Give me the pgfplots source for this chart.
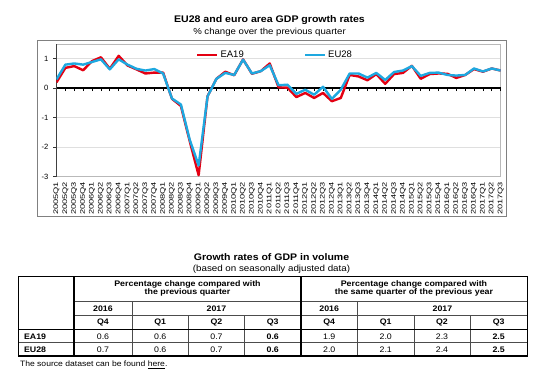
\documentclass[border=0pt]{standalone}
\usepackage{pgfplots}
\usepackage{pgfplotstable}
\pgfplotsset{compat=1.18}
\usepackage{fontspec}
\setmainfont{Liberation Sans}[FakeStretch=1.1]
\newfontfamily\plainf{Liberation Sans}
\newfontfamily\tickf{Liberation Sans}[FakeStretch=1.4]
\definecolor{eared}{RGB}{228,0,18}
\definecolor{eublue}{RGB}{30,168,224}
\newcommand\fs[1]{\fontsize{#1}{#1}\selectfont}

\pgfplotstableread{
i ea eu
0 0.20 0.30
1 0.69 0.80
2 0.75 0.84
3 0.61 0.80
4 0.92 0.89
5 1.05 0.98
6 0.66 0.64
7 1.10 0.98
8 0.77 0.80
9 0.64 0.66
10 0.50 0.60
11 0.53 0.65
12 0.53 0.50
13 -0.36 -0.35
14 -0.60 -0.55
15 -1.80 -1.75
16 -2.95 -2.62
17 -0.27 -0.28
18 0.32 0.32
19 0.56 0.52
20 0.44 0.45
21 0.98 0.97
22 0.49 0.50
23 0.58 0.58
24 0.84 0.78
25 0.03 0.10
26 0.02 0.12
27 -0.30 -0.19
28 -0.16 -0.05
29 -0.33 -0.22
30 -0.16 0.05
31 -0.44 -0.36
32 -0.33 -0.05
33 0.45 0.50
34 0.40 0.50
35 0.27 0.36
36 0.48 0.52
37 0.15 0.28
38 0.48 0.55
39 0.52 0.60
40 0.76 0.75
41 0.32 0.42
42 0.48 0.52
43 0.50 0.53
44 0.49 0.45
45 0.35 0.43
46 0.45 0.45
47 0.65 0.67
48 0.56 0.57
49 0.67 0.67
50 0.60 0.60
}\gdp

\begin{document}
\begin{tikzpicture}[x=1pt,y=1pt]
\useasboundingbox (0,0) rectangle (550,378);
% chart titles
\node[font=\bfseries\fs{9.6}] at (269.5,358.2) {EU28 and euro area GDP growth rates};
\node[font=\fs{8.75}] at (269.5,345.8) {\% change over the previous quarter};
\draw[gray, line width=0.8] (37,162) rectangle (506.7,338);

\begin{axis}[at={(56.5pt,201.3pt)}, anchor=south west, scale only axis,
  width=444.2pt, height=132.7pt, xmin=0, xmax=50, ymin=-3, ymax=1.5,
  axis line style={gray!55, line width=0.6pt},
  xtick={0,...,50},
  xticklabels={2005Q1,2005Q2,2005Q3,2005Q4,2006Q1,2006Q2,2006Q3,2006Q4,2007Q1,2007Q2,2007Q3,2007Q4,2008Q1,2008Q2,2008Q3,2008Q4,2009Q1,2009Q2,2009Q3,2009Q4,2010Q1,2010Q2,2010Q3,2010Q4,2011Q1,2011Q2,2011Q3,2011Q4,2012Q1,2012Q2,2012Q3,2012Q4,2013Q1,2013Q2,2013Q3,2013Q4,2014Q1,2014Q2,2014Q3,2014Q4,2015Q1,2015Q2,2015Q3,2015Q4,2016Q1,2016Q2,2016Q3,2016Q4,2017Q1,2017Q2,2017Q3},
  major x tick style={draw=none},
  xticklabel style={rotate=90, anchor=east, font=\tickf\fs{6.6}, inner sep=1.5pt},
  ytick={-3,-2,-1,0,1}, yticklabels={-3,-2,-1,0,1},
  yticklabel style={font=\plainf\fs{7.6}, xshift=-1pt},
  major y tick style={black!80, line width=0.6pt},
  tick align=outside, major tick length=3.5pt,
  xtick pos=bottom, ytick pos=left,
  ymajorgrids, grid style={gray!25, line width=0.6pt}]
\end{axis}

\begin{axis}[at={(56.5pt,201.3pt)}, anchor=south west, scale only axis,
  width=444.2pt, height=132.7pt, xmin=0, xmax=50, ymin=-3, ymax=1.5,
  axis x line=middle, axis y line=left, axis line style={-},
  x axis line style={black, line width=1.5pt},
  y axis line style={black!75, line width=0.8pt},
  xtick={0,...,50}, xticklabels={}, ytick=\empty,
  tick align=outside, major tick length=3pt,
  major x tick style={black, line width=0.7pt},
  line join=round,
  legend style={at={(0.314,0.965)}, anchor=north west, draw=none, fill=none,
    font=\plainf\fs{9.5}, inner sep=0pt, cells={anchor=west}},
  legend columns=2,
  legend image code/.code={\draw[#1] (0pt,0pt) -- (20pt,0pt);},
  /tikz/every even column/.append style={column sep=58pt}]
\addplot[eared, line width=2.4pt] table[x=i,y=ea]{\gdp};
\addplot[eublue, line width=2.4pt] table[x=i,y=eu]{\gdp};
\legend{EA19,EU28}
\end{axis}

% table
\node[font=\bfseries\fs{9.55}] at (271.5,121.3) {Growth rates of GDP in volume};
\node[font=\fs{8.9}] at (271.5,108.3) {(based on seasonally adjusted data)};

\begin{scope}[black!70, line width=0.6]
\draw (74,76.3) -- (527.3,76.3);
\draw (74,62.3) -- (527.3,62.3);
\draw (132,76.3) -- (132,22);
\draw (357.5,76.3) -- (357.5,22);
\foreach \xx in {188.5,244.5,414,470} \draw (\xx,62.3) -- (\xx,22);
\draw (18.3,35.3) -- (527.3,35.3);
\end{scope}
\begin{scope}[black, line width=1.3]
\draw (18.3,22) rectangle (527.3,101.3);
\draw (74,101.3) -- (74,22);
\draw (301,101.3) -- (301,22);
\draw (18.3,48.7) -- (527.3,48.7);
\end{scope}

\node[align=center, font=\bfseries\fontsize{8.06}{8.4}\selectfont] at (187.5,89.5) {Percentage change compared with\\the previous quarter};
\node[align=center, font=\bfseries\fontsize{8.06}{8.4}\selectfont] at (414,89.5) {Percentage change compared with\\the same quarter of the previous year};

\begin{scope}[every node/.style={font=\bfseries\fs{8}}]
\node at (103,69) {2016};
\node at (216.5,69) {2017};
\node at (329.25,69) {2016};
\node at (442.4,69) {2017};
\node at (103,55.7) {Q4};
\node at (160.25,55.7) {Q1};
\node at (216.5,55.7) {Q2};
\node at (272.75,55.7) {Q3};
\node at (329.25,55.7) {Q4};
\node at (385.75,55.7) {Q1};
\node at (442,55.7) {Q2};
\node at (498.65,55.7) {Q3};
\node[anchor=west] at (20.5,41.3) {EA19};
\node[anchor=west] at (20.5,28.7) {EU28};
\node at (272.75,41.3) {0.6};
\node at (498.65,41.3) {2.5};
\node at (272.75,28.7) {0.6};
\node at (498.65,28.7) {2.5};
\end{scope}
\begin{scope}[every node/.style={font=\fs{8}}]
\node at (103,41.3) {0.6};
\node at (160.25,41.3) {0.6};
\node at (216.5,41.3) {0.7};
\node at (329.25,41.3) {1.9};
\node at (385.75,41.3) {2.0};
\node at (442,41.3) {2.3};
\node at (103,28.7) {0.7};
\node at (160.25,28.7) {0.6};
\node at (216.5,28.7) {0.7};
\node at (329.25,28.7) {2.0};
\node at (385.75,28.7) {2.1};
\node at (442,28.7) {2.4};
\end{scope}
\node[anchor=west, font=\fs{7.8}] at (16.5,13) {The source dataset can be found \underline{here}.};
\end{tikzpicture}
\end{document}
